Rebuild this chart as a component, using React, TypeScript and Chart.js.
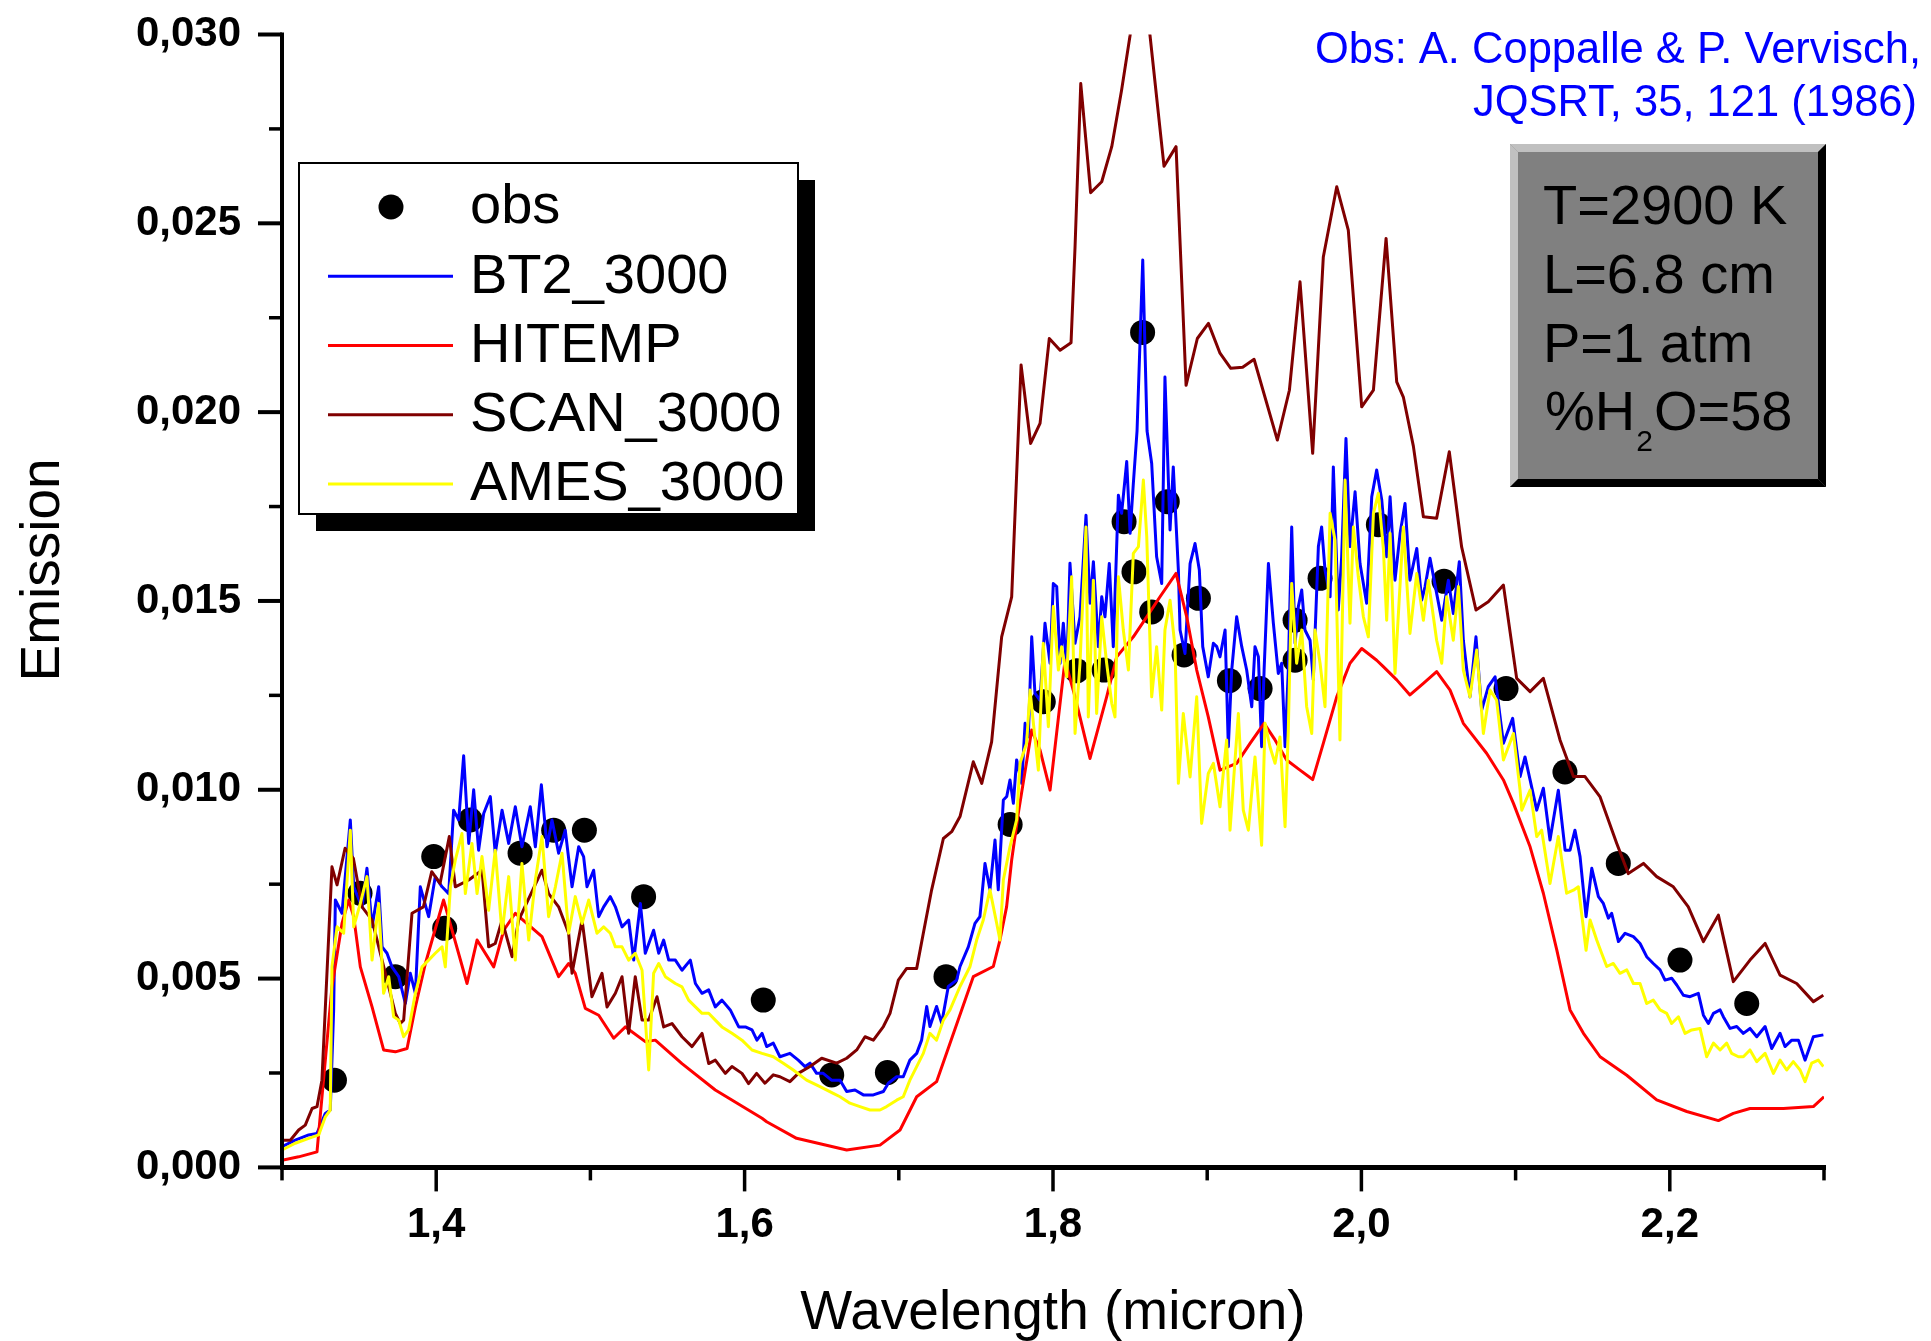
import React, { useEffect, useRef } from "react";
import { Chart, registerables } from "chart.js";

Chart.register(...registerables);

const FONT = "'Liberation Sans', Arial, Helvetica, sans-serif";

// ---- data: [wavelength (micron), emission] ----
const obsPoints: number[][] = [
  [1.334, 0.00231], [1.3506, 0.00726], [1.3735, 0.00505], [1.3984, 0.00823], [1.4055, 0.00633],
  [1.4221, 0.0092], [1.4544, 0.00832], [1.4762, 0.00893], [1.4961, 0.00893], [1.5345, 0.00717],
  [1.6121, 0.00443], [1.6565, 0.00245], [1.6926, 0.00251], [1.7306, 0.00505], [1.7722, 0.00908],
  [1.7937, 0.01233], [1.8154, 0.01315], [1.8331, 0.01317], [1.8461, 0.0171], [1.8525, 0.01577],
  [1.8581, 0.02211], [1.864, 0.01471], [1.8741, 0.01763], [1.885, 0.01357], [1.8943, 0.01507],
  [1.9144, 0.01289], [1.9343, 0.01268], [1.957, 0.01343], [1.957, 0.01449], [1.9732, 0.0156],
  [2.011, 0.01702], [2.0536, 0.01552], [2.0938, 0.01268], [2.132, 0.01047], [2.1666, 0.00805],
  [2.2066, 0.00549], [2.2499, 0.00434],
];

const bt2Points: number[][] = [
  [1.3, 0.00055], [1.3086, 0.00072], [1.3173, 0.00086], [1.3227, 0.0009], [1.3281, 0.00143],
  [1.3313, 0.00152], [1.3335, 0.00417], [1.3346, 0.00708], [1.3389, 0.00673], [1.3443, 0.0092],
  [1.3465, 0.00743], [1.3519, 0.0069], [1.3551, 0.00792], [1.3584, 0.00637], [1.3627, 0.00743],
  [1.3649, 0.00584], [1.3681, 0.00567], [1.3713, 0.00531], [1.3757, 0.00505], [1.38, 0.00434],
  [1.3832, 0.00514], [1.3865, 0.00461], [1.3897, 0.00743], [1.3951, 0.00664], [1.3994, 0.0077],
  [1.4038, 0.00743], [1.4081, 0.00725], [1.4113, 0.00946], [1.4146, 0.0092], [1.4178, 0.0109],
  [1.4211, 0.00858], [1.4243, 0.01], [1.4275, 0.0084], [1.4308, 0.00937], [1.4351, 0.00982],
  [1.4383, 0.00832], [1.4427, 0.00946], [1.447, 0.00858], [1.4513, 0.00955], [1.4556, 0.00849],
  [1.461, 0.00955], [1.4643, 0.00849], [1.4682, 0.01013], [1.4719, 0.00849], [1.4751, 0.0092],
  [1.4794, 0.00832], [1.4837, 0.00893], [1.4881, 0.00743], [1.4924, 0.00849], [1.4956, 0.00823],
  [1.4978, 0.00743], [1.5021, 0.00787], [1.5054, 0.00664], [1.5086, 0.0069], [1.5129, 0.00717],
  [1.5162, 0.0069], [1.5205, 0.00637], [1.5248, 0.00655], [1.5281, 0.00549], [1.5324, 0.00699],
  [1.5356, 0.00567], [1.541, 0.00628], [1.5443, 0.00567], [1.5475, 0.00602], [1.5508, 0.00549],
  [1.5551, 0.00549], [1.5594, 0.00522], [1.5648, 0.00549], [1.5681, 0.00487], [1.5724, 0.00461],
  [1.5767, 0.0047], [1.581, 0.00425], [1.5853, 0.00443], [1.5907, 0.00417], [1.5962, 0.00372],
  [1.6005, 0.00372], [1.6048, 0.00364], [1.608, 0.00337], [1.6113, 0.00355], [1.6143, 0.0032],
  [1.6186, 0.00329], [1.6229, 0.00293], [1.6294, 0.00302], [1.6348, 0.00284], [1.6392, 0.00267],
  [1.6424, 0.00276], [1.6467, 0.00249], [1.651, 0.00249], [1.6564, 0.00231], [1.6619, 0.00231],
  [1.6662, 0.00201], [1.6716, 0.00205], [1.677, 0.00192], [1.6835, 0.00192], [1.69, 0.00201],
  [1.6932, 0.00223], [1.6986, 0.0024], [1.7029, 0.0024], [1.7072, 0.00284], [1.7116, 0.00302],
  [1.7148, 0.00337], [1.7181, 0.00426], [1.7202, 0.00373], [1.7245, 0.00426], [1.7278, 0.00382],
  [1.7321, 0.00479], [1.7375, 0.00496], [1.7397, 0.00532], [1.7451, 0.00584], [1.7494, 0.00646],
  [1.7526, 0.00664], [1.7559, 0.00805], [1.7591, 0.00735], [1.7624, 0.00867], [1.7645, 0.00735],
  [1.7678, 0.00973], [1.77, 0.00982], [1.7721, 0.01026], [1.7743, 0.00964], [1.7764, 0.01079],
  [1.7797, 0.01017], [1.7819, 0.01176], [1.784, 0.0114], [1.7862, 0.01405], [1.7883, 0.01255],
  [1.7916, 0.01237], [1.7948, 0.01441], [1.7981, 0.01335], [1.8002, 0.01546], [1.8024, 0.01538],
  [1.8046, 0.01335], [1.8067, 0.01441], [1.8089, 0.01317], [1.811, 0.016], [1.8143, 0.01388],
  [1.8175, 0.01458], [1.8214, 0.01727], [1.824, 0.01494], [1.8262, 0.01604], [1.8294, 0.01379],
  [1.8316, 0.01511], [1.8337, 0.01458], [1.8365, 0.01599], [1.8391, 0.01379], [1.8424, 0.0178],
  [1.8445, 0.01732], [1.8478, 0.01869], [1.85, 0.01679], [1.8521, 0.01811], [1.8545, 0.0195],
  [1.8582, 0.02403], [1.861, 0.0195], [1.864, 0.01864], [1.8672, 0.01617], [1.8705, 0.01546],
  [1.8726, 0.02093], [1.8759, 0.01688], [1.878, 0.01855], [1.8813, 0.01582], [1.8824, 0.01423],
  [1.8856, 0.01361], [1.8889, 0.01599], [1.8921, 0.01652], [1.8949, 0.01582], [1.8971, 0.01379],
  [1.9007, 0.01299], [1.904, 0.01388], [1.9062, 0.01379], [1.9083, 0.01352], [1.9116, 0.01423],
  [1.9137, 0.01114], [1.9159, 0.01317], [1.9191, 0.01458], [1.9224, 0.01379], [1.9256, 0.01317],
  [1.9289, 0.0122], [1.931, 0.01379], [1.9332, 0.01352], [1.9353, 0.01114], [1.9369, 0.01317],
  [1.9397, 0.01599], [1.9429, 0.01441], [1.9461, 0.01308], [1.9483, 0.01335], [1.9505, 0.01114],
  [1.9526, 0.01317], [1.9548, 0.01696], [1.957, 0.01388], [1.9591, 0.01485], [1.9613, 0.01529],
  [1.9634, 0.01423], [1.9667, 0.01396], [1.9688, 0.01291], [1.9721, 0.01644], [1.9742, 0.01696],
  [1.9764, 0.01582], [1.9797, 0.01511], [1.9818, 0.01855], [1.985, 0.01476], [1.9872, 0.01617],
  [1.99, 0.0193], [1.9926, 0.01644], [1.9959, 0.01789], [1.9991, 0.01599], [2.0034, 0.01494],
  [2.0067, 0.01776], [2.0099, 0.01847], [2.0132, 0.01767], [2.0164, 0.01617], [2.0186, 0.01776],
  [2.0218, 0.01555], [2.0251, 0.01679], [2.0283, 0.01758], [2.0315, 0.01555], [2.0359, 0.01639],
  [2.0391, 0.01502], [2.0413, 0.01538], [2.0445, 0.01613], [2.0488, 0.0152], [2.0521, 0.01449],
  [2.0564, 0.01555], [2.0596, 0.01467], [2.0635, 0.01604], [2.0661, 0.01396], [2.0704, 0.01246],
  [2.0743, 0.01405], [2.078, 0.01211], [2.0823, 0.01273], [2.0867, 0.01299], [2.0921, 0.01123],
  [2.0981, 0.01189], [2.1029, 0.01035], [2.1061, 0.01087], [2.1094, 0.01026], [2.1137, 0.00946],
  [2.118, 0.01004], [2.1223, 0.00867], [2.1277, 0.00999], [2.1321, 0.0084], [2.1353, 0.0084],
  [2.1385, 0.00893], [2.1418, 0.00823], [2.1457, 0.00664], [2.1494, 0.00792], [2.1537, 0.00717],
  [2.1569, 0.00699], [2.1602, 0.0066], [2.1623, 0.00673], [2.1667, 0.00598], [2.171, 0.0062],
  [2.1764, 0.00611], [2.1807, 0.00593], [2.185, 0.00558], [2.1893, 0.0054], [2.1937, 0.00523],
  [2.1969, 0.00496], [2.2012, 0.00501], [2.2045, 0.00483], [2.2088, 0.00456], [2.2131, 0.00452],
  [2.2185, 0.00461], [2.2218, 0.00403], [2.225, 0.00381], [2.2283, 0.00408], [2.2326, 0.00417],
  [2.2347, 0.00399], [2.2391, 0.00368], [2.2434, 0.00373], [2.2477, 0.00355], [2.252, 0.00368],
  [2.2564, 0.00346], [2.2618, 0.00373], [2.2661, 0.00315], [2.2715, 0.00355], [2.2747, 0.0032],
  [2.2791, 0.00337], [2.2834, 0.00337], [2.2877, 0.00284], [2.2931, 0.00346], [2.2996, 0.00351],
];

const hitempPoints: number[][] = [
  [1.3, 0.00019], [1.3108, 0.00028], [1.3227, 0.00041], [1.3324, 0.00478], [1.3389, 0.00646],
  [1.3432, 0.00708], [1.3465, 0.00664], [1.3508, 0.00531], [1.3584, 0.00425], [1.3659, 0.00311],
  [1.3735, 0.00306], [1.3811, 0.00315], [1.3865, 0.00425], [1.393, 0.0054], [1.4048, 0.00708],
  [1.42, 0.00487], [1.4265, 0.00602], [1.4373, 0.00531], [1.4438, 0.00628], [1.4513, 0.00673],
  [1.4686, 0.00611], [1.4794, 0.00505], [1.4859, 0.0054], [1.4902, 0.00514], [1.4967, 0.00421],
  [1.5054, 0.00403], [1.5151, 0.00342], [1.5227, 0.00372], [1.5356, 0.00333], [1.5421, 0.00337],
  [1.5594, 0.00275], [1.581, 0.00205], [1.6113, 0.0013], [1.6143, 0.00121], [1.6337, 0.00077],
  [1.6662, 0.00046], [1.6878, 0.00059], [1.7008, 0.00099], [1.7116, 0.00187], [1.7245, 0.00227],
  [1.7483, 0.00505], [1.7613, 0.00532], [1.7656, 0.00602], [1.7699, 0.0069], [1.7732, 0.00814],
  [1.7775, 0.00938], [1.7862, 0.01158], [1.7916, 0.01105], [1.7981, 0.00999], [1.8078, 0.01343],
  [1.8143, 0.01246], [1.824, 0.01083], [1.8348, 0.01246], [1.8413, 0.01352], [1.8521, 0.01405],
  [1.8608, 0.01458], [1.8694, 0.01511], [1.8798, 0.01573], [1.8867, 0.01458], [1.8932, 0.01317],
  [1.9007, 0.01193], [1.9083, 0.01052], [1.9191, 0.0107], [1.9278, 0.01123], [1.9369, 0.01176],
  [1.944, 0.01132], [1.9515, 0.01079], [1.9602, 0.01052], [1.9684, 0.01027], [1.9753, 0.01123],
  [1.984, 0.01246], [1.9926, 0.01335], [2.0002, 0.01374], [2.0099, 0.01343], [2.0142, 0.01326],
  [2.0229, 0.01291], [2.0315, 0.01251], [2.0402, 0.01282], [2.0488, 0.01313], [2.0575, 0.01264],
  [2.0661, 0.01176], [2.0813, 0.01096], [2.0921, 0.01026], [2.0986, 0.00964], [2.1094, 0.00849],
  [2.118, 0.00726], [2.1267, 0.00576], [2.1353, 0.00417], [2.144, 0.00355], [2.1548, 0.00293],
  [2.1721, 0.00244], [2.1915, 0.00179], [2.211, 0.00148], [2.2315, 0.00124], [2.2412, 0.00143],
  [2.252, 0.00156], [2.2737, 0.00156], [2.2931, 0.00161], [2.3, 0.00187],
];

const scanPoints: number[][] = [
  [1.3, 0.00072], [1.3054, 0.00072], [1.3108, 0.00099], [1.3151, 0.00112], [1.3195, 0.00156],
  [1.3227, 0.00161], [1.3259, 0.00231], [1.3324, 0.00796], [1.3357, 0.00748], [1.3409, 0.00845],
  [1.3463, 0.00818], [1.3519, 0.0069], [1.3584, 0.00655], [1.3649, 0.00549], [1.3735, 0.00408],
  [1.3767, 0.00381], [1.3789, 0.0039], [1.3843, 0.00673], [1.3917, 0.0069], [1.3971, 0.00783],
  [1.4025, 0.00752], [1.4085, 0.00876], [1.4124, 0.00743], [1.4211, 0.00761], [1.4297, 0.00787],
  [1.434, 0.00584], [1.4383, 0.00593], [1.4427, 0.00655], [1.4492, 0.00558], [1.4535, 0.00655],
  [1.4686, 0.00787], [1.4729, 0.00725], [1.4794, 0.0069], [1.4859, 0.0062], [1.4881, 0.00514],
  [1.4946, 0.00655], [1.501, 0.00452], [1.5075, 0.00514], [1.5108, 0.00425], [1.5162, 0.00461],
  [1.5205, 0.00505], [1.5248, 0.00355], [1.5291, 0.00505], [1.5335, 0.0039], [1.5378, 0.0039],
  [1.5432, 0.00452], [1.5475, 0.00372], [1.5529, 0.00381], [1.5594, 0.00346], [1.5659, 0.0032],
  [1.5724, 0.00355], [1.5767, 0.00275], [1.581, 0.00284], [1.5875, 0.00249], [1.5918, 0.00267],
  [1.5983, 0.00249], [1.6026, 0.00222], [1.6078, 0.00249], [1.6132, 0.00223], [1.6186, 0.00245],
  [1.6229, 0.0024], [1.6294, 0.00227], [1.6348, 0.00249], [1.6424, 0.00267], [1.65, 0.00289],
  [1.6597, 0.00276], [1.6662, 0.00289], [1.6727, 0.00311], [1.6781, 0.00346], [1.6835, 0.00337],
  [1.69, 0.00373], [1.6943, 0.00408], [1.6997, 0.00496], [1.7051, 0.00527], [1.7116, 0.00527],
  [1.7159, 0.0062], [1.7213, 0.00735], [1.7289, 0.00871], [1.7343, 0.00889], [1.7397, 0.00929],
  [1.7483, 0.01074], [1.7538, 0.01017], [1.7602, 0.01127], [1.7667, 0.01405], [1.7732, 0.01511],
  [1.7793, 0.02125], [1.7855, 0.01917], [1.7916, 0.0197], [1.7976, 0.02195], [1.8046, 0.02164],
  [1.8117, 0.02184], [1.8143, 0.02438], [1.818, 0.0287], [1.8244, 0.02581], [1.8316, 0.0261],
  [1.8381, 0.02703], [1.8445, 0.02853], [1.85, 0.02998], [1.8555, 0.0322], [1.8629, 0.02998],
  [1.872, 0.02651], [1.8798, 0.02703], [1.8863, 0.02071], [1.8936, 0.02195], [1.9008, 0.02235],
  [1.9083, 0.02156], [1.9153, 0.02116], [1.923, 0.02119], [1.9304, 0.0214], [1.9455, 0.01926],
  [1.9533, 0.02058], [1.9602, 0.02345], [1.9684, 0.01891], [1.9753, 0.02411], [1.984, 0.02597],
  [1.9915, 0.02482], [2.0002, 0.02014], [2.0078, 0.02058], [2.016, 0.0246], [2.0229, 0.0208],
  [2.0272, 0.0204], [2.0337, 0.0191], [2.0402, 0.01723], [2.0488, 0.01719], [2.057, 0.01895],
  [2.065, 0.01643], [2.0743, 0.01476], [2.0823, 0.01498], [2.0921, 0.01542], [2.1007, 0.01295],
  [2.1094, 0.0126], [2.118, 0.01295], [2.1288, 0.01132], [2.1375, 0.01035], [2.145, 0.01035],
  [2.1548, 0.00981], [2.1656, 0.00858], [2.1731, 0.00778], [2.1829, 0.00805], [2.1915, 0.0077],
  [2.2023, 0.00743], [2.212, 0.0069], [2.2218, 0.00598], [2.2315, 0.00668], [2.2412, 0.00492],
  [2.252, 0.00549], [2.2618, 0.00593], [2.2715, 0.00509], [2.2823, 0.00487], [2.2931, 0.00439],
  [2.2996, 0.00456],
];

const amesPoints: number[][] = [
  [1.3, 0.00046], [1.3086, 0.00064], [1.3173, 0.00077], [1.3238, 0.00086], [1.3281, 0.00134],
  [1.3313, 0.00152], [1.3324, 0.00531], [1.3357, 0.00637], [1.34, 0.0062], [1.3443, 0.00893],
  [1.3465, 0.00637], [1.3508, 0.00699], [1.3551, 0.0077], [1.3584, 0.00549], [1.3627, 0.00699],
  [1.3659, 0.00461], [1.3692, 0.00505], [1.3724, 0.00399], [1.3757, 0.0039], [1.3789, 0.00346],
  [1.3821, 0.00364], [1.3865, 0.00461], [1.3908, 0.00531], [1.3951, 0.00549], [1.3994, 0.00567],
  [1.4038, 0.00584], [1.4059, 0.00531], [1.4092, 0.00743], [1.4124, 0.00814], [1.4167, 0.00884],
  [1.4189, 0.00725], [1.4232, 0.00858], [1.4265, 0.00725], [1.4297, 0.00823], [1.434, 0.00681],
  [1.4383, 0.0084], [1.4427, 0.0062], [1.447, 0.0077], [1.4513, 0.00549], [1.4556, 0.00805],
  [1.46, 0.00602], [1.4643, 0.00761], [1.4686, 0.00876], [1.4729, 0.00664], [1.4773, 0.00743],
  [1.4816, 0.00832], [1.4859, 0.0062], [1.4902, 0.00717], [1.4946, 0.00646], [1.4989, 0.00708],
  [1.5043, 0.0062], [1.5086, 0.00637], [1.5129, 0.0062], [1.5162, 0.00584], [1.5205, 0.00584],
  [1.5248, 0.00549], [1.5291, 0.00567], [1.5335, 0.00522], [1.5378, 0.00258], [1.541, 0.00514],
  [1.5443, 0.0054], [1.5486, 0.00505], [1.5551, 0.00487], [1.5594, 0.00478], [1.5637, 0.00443],
  [1.5681, 0.00425], [1.5724, 0.00408], [1.5767, 0.00408], [1.581, 0.0039], [1.5853, 0.00372],
  [1.5918, 0.00355], [1.5983, 0.00337], [1.6048, 0.00311], [1.6113, 0.00302], [1.6186, 0.00293],
  [1.6251, 0.00276], [1.6316, 0.00258], [1.6402, 0.00231], [1.6489, 0.00214], [1.6575, 0.00196],
  [1.6619, 0.00187], [1.6683, 0.0017], [1.6748, 0.00161], [1.6813, 0.00152], [1.6878, 0.00152],
  [1.6921, 0.00161], [1.6986, 0.00178], [1.7029, 0.00187], [1.7072, 0.00231], [1.7116, 0.00267],
  [1.7159, 0.00302], [1.7202, 0.00355], [1.7245, 0.00337], [1.7289, 0.0039], [1.7332, 0.00417],
  [1.7397, 0.00479], [1.7462, 0.00532], [1.7505, 0.00602], [1.7548, 0.00655], [1.7591, 0.00735],
  [1.7635, 0.00646], [1.7656, 0.00602], [1.7678, 0.00761], [1.7721, 0.00849], [1.7764, 0.0092],
  [1.7786, 0.0107], [1.7829, 0.01123], [1.7851, 0.01264], [1.7873, 0.01176], [1.7905, 0.01052],
  [1.7937, 0.01388], [1.797, 0.01167], [1.8002, 0.01485], [1.8035, 0.01317], [1.8056, 0.01379],
  [1.8089, 0.01299], [1.8121, 0.01564], [1.8143, 0.01149], [1.8175, 0.01335], [1.8214, 0.01696],
  [1.8229, 0.01193], [1.8262, 0.01555], [1.8283, 0.01202], [1.8316, 0.01458], [1.8348, 0.01335],
  [1.8381, 0.01229], [1.8402, 0.01193], [1.8424, 0.01564], [1.8456, 0.01423], [1.8489, 0.01317],
  [1.8521, 0.01626], [1.8554, 0.01644], [1.8586, 0.0182], [1.8608, 0.0167], [1.864, 0.01246],
  [1.8672, 0.01379], [1.8705, 0.01211], [1.8726, 0.01423], [1.8759, 0.01502], [1.8791, 0.01379],
  [1.8813, 0.01017], [1.8845, 0.01202], [1.8889, 0.01034], [1.8932, 0.01246], [1.8964, 0.00911],
  [1.9007, 0.01043], [1.904, 0.0107], [1.9083, 0.00955], [1.9126, 0.01132], [1.9148, 0.00893],
  [1.9202, 0.01202], [1.9234, 0.00946], [1.9267, 0.00893], [1.931, 0.01087], [1.9353, 0.00853],
  [1.9375, 0.01176], [1.9407, 0.01114], [1.944, 0.0107], [1.9472, 0.0114], [1.9505, 0.00902],
  [1.9526, 0.01158], [1.9548, 0.01546], [1.958, 0.01335], [1.9613, 0.01423], [1.9645, 0.0122],
  [1.9678, 0.01149], [1.9699, 0.01423], [1.9732, 0.01335], [1.9764, 0.0122], [1.9797, 0.01732],
  [1.9829, 0.01661], [1.9861, 0.01132], [1.9894, 0.0182], [1.9926, 0.01441], [1.9948, 0.01696],
  [1.998, 0.01564], [2.0013, 0.01458], [2.0045, 0.01405], [2.0078, 0.01732], [2.011, 0.01785],
  [2.0143, 0.01635], [2.0164, 0.01449], [2.0186, 0.01679], [2.0218, 0.01308], [2.0272, 0.01696],
  [2.0315, 0.01414], [2.0359, 0.01573], [2.0402, 0.01449], [2.0434, 0.01555], [2.0488, 0.01396],
  [2.0521, 0.01335], [2.0553, 0.01511], [2.0596, 0.01396], [2.0629, 0.01538], [2.0661, 0.01317],
  [2.0704, 0.01246], [2.0748, 0.0137], [2.0791, 0.01149], [2.0834, 0.01264], [2.0877, 0.01237],
  [2.0921, 0.01079], [2.0986, 0.01149], [2.1029, 0.00999], [2.104, 0.00946], [2.1094, 0.00999],
  [2.1137, 0.00876], [2.1169, 0.00893], [2.1223, 0.00752], [2.1277, 0.00876], [2.1331, 0.00726],
  [2.1375, 0.00734], [2.1407, 0.00743], [2.1457, 0.00575], [2.1483, 0.00655], [2.1526, 0.00602],
  [2.1558, 0.00567], [2.1591, 0.00532], [2.1634, 0.0054], [2.1677, 0.00514], [2.1721, 0.00523],
  [2.1764, 0.00487], [2.1807, 0.00487], [2.185, 0.00434], [2.1893, 0.00443], [2.1937, 0.00417],
  [2.198, 0.00408], [2.2012, 0.00381], [2.2056, 0.00399], [2.2099, 0.00355], [2.2142, 0.00364],
  [2.2196, 0.00368], [2.2239, 0.00293], [2.2283, 0.00329], [2.2326, 0.00311], [2.2369, 0.00329],
  [2.2401, 0.00302], [2.2445, 0.00293], [2.2477, 0.00293], [2.252, 0.00311], [2.2564, 0.0028],
  [2.2618, 0.00302], [2.2672, 0.00249], [2.2715, 0.00284], [2.2758, 0.00258], [2.2801, 0.0028],
  [2.2845, 0.00258], [2.2877, 0.00227], [2.292, 0.00276], [2.2963, 0.00284], [2.2996, 0.00267],
];

const seriesLabels = ["obs", "BT2_3000", "HITEMP", "SCAN_3000", "AMES_3000"];
const seriesColors = ["#000000", "#0000ff", "#ff0000", "#800000", "#ffff00"];

const xTickValues = [1.3, 1.4, 1.5, 1.6, 1.7, 1.8, 1.9, 2.0, 2.1, 2.2, 2.3];
const xMajorValues = [1.4, 1.6, 1.8, 2.0, 2.2];
const yTickValues = [0, 0.005, 0.01, 0.015, 0.02, 0.025, 0.03];
const yMinorValues = [0.0025, 0.0075, 0.0125, 0.0175, 0.0225, 0.0275];

const xTitle = "Wavelength (micron)";
const yTitle = "Emission";
const sourceLines = ["Obs: A. Coppalle & P. Vervisch,", "JQSRT, 35, 121 (1986)"];
const infoLines = ["T=2900 K", "L=6.8 cm", "P=1 atm"];
const infoWaterParts = ["%H", "2", "O=58"];

const fmtComma = (v: number, d: number) => v.toFixed(d).replace(".", ",");
const toXY = (pts: number[][]) => pts.map((p) => ({ x: p[0], y: p[1] }));

const decorPlugin = {
  id: "decor",
  afterDatasetsDraw(chart: any) {
    const { ctx, chartArea: a, scales } = chart;
    const xs = scales.x;
    const ys = scales.y;
    const seg = (x0: number, y0: number, x1: number, y1: number) => {
      ctx.beginPath();
      ctx.moveTo(x0, y0);
      ctx.lineTo(x1, y1);
      ctx.stroke();
    };
    ctx.save();
    ctx.strokeStyle = "#000";
    ctx.lineCap = "butt";

    // y axis + ticks
    ctx.lineWidth = 4;
    seg(a.left, a.top - 2, a.left, a.bottom);
    yTickValues.forEach((v) => {
      const p = ys.getPixelForValue(v);
      seg(a.left - 24, p, a.left, p);
    });
    ctx.lineWidth = 3.5;
    yMinorValues.forEach((v) => {
      const p = ys.getPixelForValue(v);
      seg(a.left - 13, p, a.left, p);
    });

    // x axis + ticks
    ctx.lineWidth = 5;
    seg(a.left - 2, a.bottom, a.right + 2, a.bottom);
    ctx.lineWidth = 3.5;
    xTickValues.forEach((v) => {
      const p = xs.getPixelForValue(v);
      const major = xMajorValues.some((m) => Math.abs(m - v) < 1e-6);
      seg(p, a.bottom, p, a.bottom + (major ? 24 : 13));
    });

    // y title
    ctx.save();
    ctx.translate(59, 570);
    ctx.rotate(-Math.PI / 2);
    ctx.fillStyle = "#000";
    ctx.font = `55px ${FONT}`;
    ctx.textAlign = "center";
    ctx.textBaseline = "alphabetic";
    ctx.fillText(yTitle, 0, 0);
    ctx.restore();

    // legend
    const L = { x: 299, y: 163, w: 499, h: 351, sh: 17 };
    ctx.fillStyle = "#000";
    ctx.fillRect(L.x + L.sh, L.y + L.sh, L.w, L.h);
    ctx.fillStyle = "#fff";
    ctx.fillRect(L.x, L.y, L.w, L.h);
    ctx.lineWidth = 2;
    ctx.strokeStyle = "#000";
    ctx.strokeRect(L.x, L.y, L.w, L.h);
    ctx.font = `56px ${FONT}`;
    ctx.textAlign = "left";
    ctx.textBaseline = "middle";
    chart.data.datasets.forEach((ds: any, i: number) => {
      const ry = 207 + i * 69.25;
      if (i === 0) {
        ctx.fillStyle = ds.backgroundColor;
        ctx.beginPath();
        ctx.arc(391, ry, 12.5, 0, Math.PI * 2);
        ctx.fill();
      } else {
        ctx.strokeStyle = ds.borderColor;
        ctx.lineWidth = 3;
        seg(328, ry, 453, ry);
      }
      ctx.fillStyle = "#000";
      ctx.fillText(ds.label, 470, ry + 1);
    });

    // info box with bevel
    const B = { x0: 1510, y0: 144, x1: 1826, y1: 487, b: 8 };
    ctx.fillStyle = "#808080";
    ctx.fillRect(B.x0, B.y0, B.x1 - B.x0, B.y1 - B.y0);
    const poly = (pts: number[][], color: string) => {
      ctx.fillStyle = color;
      ctx.beginPath();
      ctx.moveTo(pts[0][0], pts[0][1]);
      for (let k = 1; k < pts.length; k++) ctx.lineTo(pts[k][0], pts[k][1]);
      ctx.closePath();
      ctx.fill();
    };
    poly([[B.x0, B.y0], [B.x1, B.y0], [B.x1 - B.b, B.y0 + B.b], [B.x0 + B.b, B.y0 + B.b]], "#c0c0c0");
    poly([[B.x0, B.y0], [B.x0 + B.b, B.y0 + B.b], [B.x0 + B.b, B.y1 - B.b], [B.x0, B.y1]], "#c0c0c0");
    poly([[B.x0, B.y1], [B.x0 + B.b, B.y1 - B.b], [B.x1 - B.b, B.y1 - B.b], [B.x1, B.y1]], "#000");
    poly([[B.x1, B.y0], [B.x1, B.y1], [B.x1 - B.b, B.y1 - B.b], [B.x1 - B.b, B.y0 + B.b]], "#000");
    ctx.fillStyle = "#000";
    ctx.textBaseline = "alphabetic";
    ctx.textAlign = "left";
    ctx.font = `56px ${FONT}`;
    const base = [224, 293, 362, 430];
    infoLines.forEach((t, i) => ctx.fillText(t, 1543, base[i]));
    let tx = 1545;
    ctx.fillText(infoWaterParts[0], tx, base[3]);
    tx += ctx.measureText(infoWaterParts[0]).width;
    ctx.font = `30px ${FONT}`;
    ctx.fillText(infoWaterParts[1], tx + 1, base[3] + 21);
    tx += ctx.measureText(infoWaterParts[1]).width + 2;
    ctx.font = `56px ${FONT}`;
    ctx.fillText(infoWaterParts[2], tx, base[3]);

    // source annotation
    ctx.fillStyle = "#0000ff";
    ctx.font = `43.5px ${FONT}`;
    ctx.textAlign = "right";
    ctx.fillText(sourceLines[0], 1921, 63);
    ctx.fillText(sourceLines[1], 1917, 116);

    ctx.restore();
  },
};

export default function App() {
  const canvasRef = useRef<HTMLCanvasElement | null>(null);

  useEffect(() => {
    const canvas = canvasRef.current;
    if (!canvas) return;
    const lineDs = (i: number, pts: number[][], order: number) => ({
      label: seriesLabels[i],
      data: toXY(pts),
      showLine: true,
      borderColor: seriesColors[i],
      backgroundColor: seriesColors[i],
      borderWidth: 3,
      borderJoinStyle: "round" as const,
      pointRadius: 0,
      pointHoverRadius: 0,
      tension: 0,
      order,
    });
    const chart = new Chart(canvas, {
      type: "scatter",
      data: {
        datasets: [
          {
            label: seriesLabels[0],
            data: toXY(obsPoints),
            showLine: false,
            backgroundColor: seriesColors[0],
            borderColor: seriesColors[0],
            pointRadius: 12.5,
            pointHoverRadius: 12.5,
            pointBorderWidth: 0,
            order: 4,
          },
          lineDs(1, bt2Points, 3),
          lineDs(2, hitempPoints, 2),
          lineDs(3, scanPoints, 1),
          lineDs(4, amesPoints, 0),
        ] as any,
      },
      options: {
        animation: false,
        responsive: false,
        devicePixelRatio: 1,
        events: [],
        layout: { padding: { left: 0, right: 107, top: 34.5, bottom: 0 } },
        plugins: { legend: { display: false }, tooltip: { enabled: false } },
        scales: {
          x: {
            type: "linear",
            min: 1.3,
            max: 2.3,
            grid: { display: false, drawTicks: false },
            border: { display: false },
            afterBuildTicks: (s: any) => {
              s.ticks = xTickValues.map((v) => ({ value: v }));
            },
            afterFit: (s: any) => {
              s.height = 173.6;
              s.paddingLeft = 0;
              s.paddingRight = 0;
            },
            ticks: {
              autoSkip: false,
              maxRotation: 0,
              minRotation: 0,
              padding: 33,
              color: "#000",
              font: { family: FONT, size: 42, weight: "bold" },
              callback: (v: any) => {
                const n = Number(v);
                return xMajorValues.some((m) => Math.abs(m - n) < 1e-6) ? fmtComma(n, 1) : "";
              },
            },
            title: {
              display: true,
              text: xTitle,
              color: "#000",
              font: { family: FONT, size: 55, lineHeight: 1 },
              padding: 0,
            },
          },
          y: {
            type: "linear",
            min: 0,
            max: 0.03,
            grid: { display: false, drawTicks: false },
            border: { display: false },
            afterBuildTicks: (s: any) => {
              s.ticks = yTickValues.map((v) => ({ value: v }));
            },
            afterFit: (s: any) => {
              s.width = 282;
              s.paddingTop = 0;
              s.paddingBottom = 0;
            },
            ticks: {
              padding: 41,
              color: "#000",
              font: { family: FONT, size: 42, weight: "bold" },
              callback: (v: any) => fmtComma(Number(v), 3),
            },
          },
        },
      } as any,
      plugins: [decorPlugin],
    });
    return () => chart.destroy();
  }, []);

  return (
    <div style={{ position: "fixed", left: 0, top: 0, width: 1931, height: 1341, background: "#fff" }}>
      <canvas ref={canvasRef} width={1931} height={1341} style={{ display: "block" }} />
    </div>
  );
}
